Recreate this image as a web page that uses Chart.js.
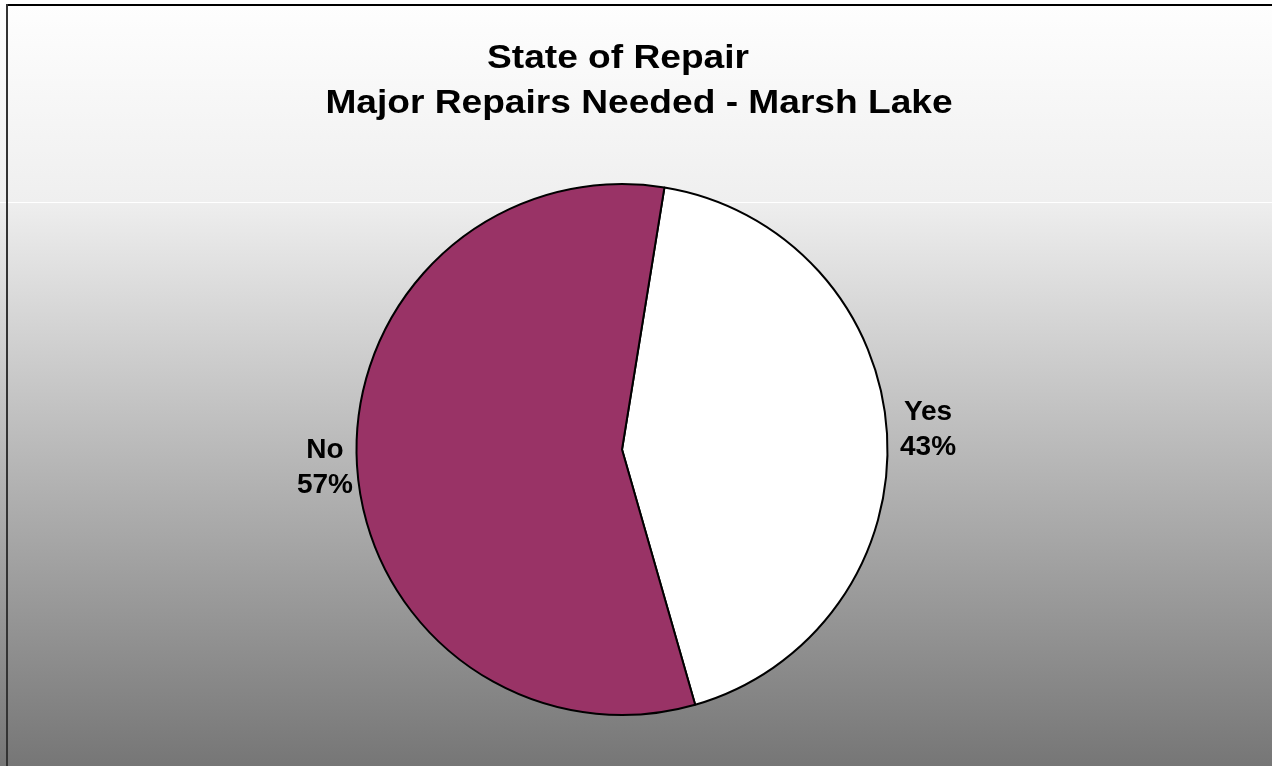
<!DOCTYPE html>
<html>
<head>
<meta charset="utf-8">
<title>State of Repair</title>
<script src="https://cdn.jsdelivr.net/npm/chart.js@4"></script>
<style>
  html, body { margin: 0; padding: 0; background: #fff; }
  canvas { display: block; }
</style>
</head>
<body>
<canvas id="repairPie" width="1272" height="766"></canvas>
<script>
const categories = ["Yes", "No"];
const shares = [43, 57];
const sliceColors = ["#ffffff", "#993366"];
const titleLines = ["State of Repair", "Major Repairs Needed - Marsh Lake"];

const FONT = "'Liberation Sans', Arial, Helvetica, sans-serif";

// grey gradient backdrop with the frame lines on top and left
const backdrop = {
  id: "backdrop",
  beforeDraw(chart) {
    const ctx = chart.ctx;
    const w = chart.width, h = chart.height;
    ctx.save();
    let g = ctx.createLinearGradient(0, 5, 0, 202);
    g.addColorStop(0, "#fefefe");
    g.addColorStop(1, "#efefef");
    ctx.fillStyle = g;
    ctx.fillRect(0, 5, w, 197);
    g = ctx.createLinearGradient(0, 202, 0, h);
    g.addColorStop(0, "#eeeeee");
    g.addColorStop(1, "#767676");
    ctx.fillStyle = g;
    ctx.fillRect(0, 202, w, h - 202);
    ctx.fillStyle = "#ffffff";
    ctx.fillRect(0, 202, w, 1);
    ctx.fillStyle = "#000000";
    ctx.fillRect(6, 4, w - 6, 2);
    ctx.fillStyle = "#333333";
    ctx.fillRect(6, 4, 2, h - 4);
    ctx.restore();
  }
};

// two-line heading, slightly widened glyphs
const heading = {
  id: "heading",
  afterDraw(chart) {
    const ctx = chart.ctx;
    const rows = [
      { text: titleLines[0], cx: 618, base: 68 },
      { text: titleLines[1], cx: 639, base: 113 }
    ];
    ctx.save();
    ctx.font = "bold 33px " + FONT;
    ctx.fillStyle = "#000";
    ctx.textAlign = "center";
    ctx.textBaseline = "alphabetic";
    rows.forEach(r => {
      ctx.save();
      ctx.translate(r.cx, r.base);
      ctx.scale(1.125, 1);
      ctx.fillText(r.text, 0, 0);
      ctx.restore();
    });
    ctx.restore();
  }
};

// category name and percentage outside each slice
const sliceLabels = {
  id: "sliceLabels",
  afterDatasetsDraw(chart) {
    const ctx = chart.ctx;
    const meta = chart.getDatasetMeta(0);
    const total = shares.reduce((a, b) => a + b, 0);
    ctx.save();
    ctx.font = "bold 28px " + FONT;
    ctx.fillStyle = "#000";
    ctx.textBaseline = "middle";
    meta.data.forEach((arc, i) => {
      const p = arc.getProps(["x", "y", "startAngle", "endAngle", "outerRadius"], true);
      const mid = (p.startAngle + p.endAngle) / 2;
      const right = Math.cos(mid) >= 0;
      const r = p.outerRadius + (right ? 13 : 4);
      const x = p.x + Math.cos(mid) * r;
      const y = p.y + Math.sin(mid) * r;
      ctx.textAlign = right ? "left" : "right";
      const pct = Math.round(shares[i] / total * 100) + "%";
      const lines = [categories[i], pct];
      const widest = Math.max(...lines.map(s => ctx.measureText(s).width));
      lines.forEach((t, k) => {
        // centre each line within the label block
        const off = (widest - ctx.measureText(t).width) / 2;
        ctx.fillText(t, right ? x + off : x - off, y + (k - 0.5) * 35 + (right ? -3 : 2));
      });
    });
    ctx.restore();
  }
};

new Chart(document.getElementById("repairPie"), {
  type: "pie",
  data: {
    labels: categories,
    datasets: [{
      data: shares,
      backgroundColor: sliceColors,
      borderColor: "#000000",
      borderWidth: 2
    }]
  },
  options: {
    responsive: false,
    animation: false,
    rotation: 9.2,
    layout: { padding: { top: 183, bottom: 50, left: 0, right: 28 } },
    plugins: {
      legend: { display: false },
      tooltip: { enabled: false },
      title: { display: false }
    }
  },
  plugins: [backdrop, heading, sliceLabels]
});
</script>
</body>
</html>
